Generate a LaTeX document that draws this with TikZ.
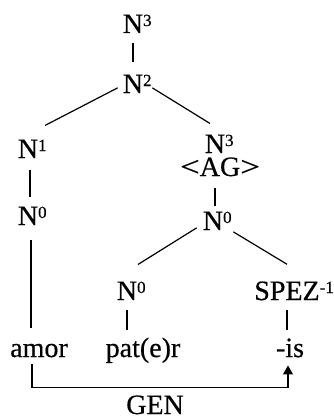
\documentclass[tikz,border=0pt]{standalone}
\usepackage{fontspec}
\setmainfont{Liberation Serif}[UprightFeatures={FakeBold=0.5}]
\usetikzlibrary{calc,arrows.meta}
\newcommand{\supx}[1]{\raisebox{7pt}{\fontsize{17}{17}\selectfont #1}}
\newcommand{\wideglyph}[1]{\scalebox{1.25}[1]{#1}}
\begin{document}
\begin{tikzpicture}[x=1pt,y=-1pt,
  lbl/.style={anchor=base,inner sep=0pt,font=\fontsize{28}{30}\selectfont},
  edge/.style={line width=1.2pt}]
\useasboundingbox (0,0) rectangle (333,420);
\node[lbl] (t)    at (133,33)  {N\rlap{\supx{3}}};
\node[lbl] (n2)   at (133,93)  {N\rlap{\supx{2}}};
\node[lbl] (n1)   at (28,158)  {N\rlap{\supx{1}}};
\node[lbl] (n0a)  at (28,225)  {N\rlap{\supx{0}}};
\node[lbl] (n3)   at (215,153) {N\rlap{\supx{3}}};
\node[lbl] (ag)   at (220,176) {\wideglyph{<}AG\wideglyph{>}};
\node[lbl] (n0b)  at (213,230) {N\rlap{\supx{0}}};
\node[lbl] (n0c)  at (127,300) {N\rlap{\supx{0}}};
\node[lbl] (spez) at (287,300) {SPEZ\rlap{\supx{-1}}};
\node[lbl] (amor) at (39,357)  {amor};
\node[lbl] (patr) at (143,357) {pat(e)r};
\node[lbl] (is)   at (290,357) {-is};
\node[lbl] (gen)  at (155,414) {GEN};
\draw[edge] ($(t.south)+(0,10)$) -- ($(n2.north)+(0,-12)$);
\draw[edge] ($(n2.west)+(-5,4)$) -- ($(n1.north)+(17,-14)$);
\draw[edge] ($(n2.east)+(9,4)$) -- ($(n3.north)+(-5,-11)$);
\draw[edge] ($(n1.south)+(2,12)$) -- ($(n0a.north)+(2,-9)$);
\draw[edge] ($(ag.south)+(-5,12)$) -- ($(n0b.north)+(2,-5)$);
\draw[edge] ($(n0a.south)+(3,15)$) -- ($(n0a.south)+(3,103)$);
\draw[edge] ($(n0b.west)+(-6,7)$) -- ($(n0c.north)+(11,-17)$);
\draw[edge] ($(n0b.east)+(10,11)$) -- ($(spez.north)+(0,-17)$);
\draw[edge] ($(n0c.south)+(0,10)$) -- ($(n0c.south)+(0,30)$);
\draw[edge] ($(spez.south)+(0,10)$) -- ($(spez.south)+(0,30)$);
\draw[edge,-{Triangle[width=10pt,length=9pt]}] ($(amor.south)+(-7,7)$) -- ++(0,23) -| ($(is.south)+(-2,8)$);
\end{tikzpicture}
\end{document}
